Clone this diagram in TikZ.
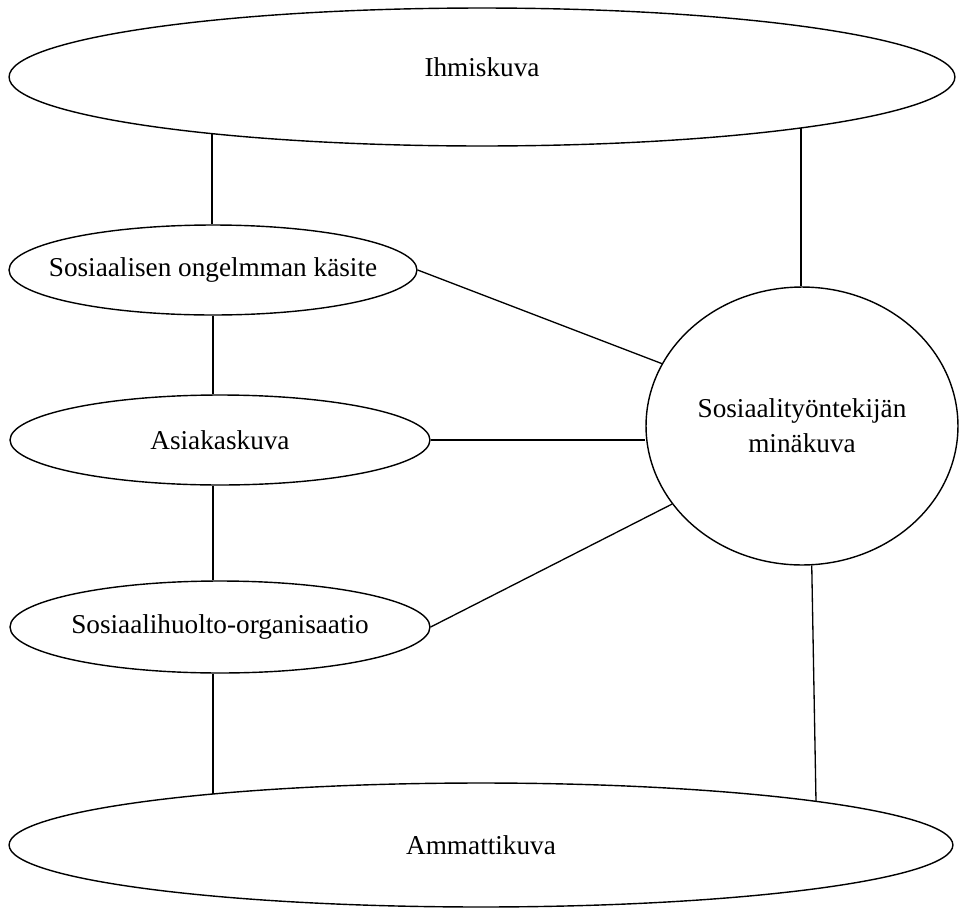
\documentclass[tikz,border=0pt]{standalone}
\usepackage{fontspec}
\setmainfont{Liberation Serif}
\usetikzlibrary{shapes.geometric,calc}
\tikzset{
    kuva/.style = {draw, ellipse, inner sep=0pt, inner xsep=-1cm, line width=0.8pt},
    yhteys/.style = {draw, line width=0.75pt}
}

\begin{document}
\begin{tikzpicture}[x=0.02cm, y=-0.02cm, font=\fontsize{15.5}{20}\selectfont]
    \useasboundingbox (0,0) rectangle (961,910);
    \node[kuva, minimum width=18.92cm, minimum height=2.76cm, text depth=0.4cm] (ihmis) at (482,77) {Ihmiskuva};
    \node[kuva, minimum width=8.16cm, minimum height=1.8cm] (ongelma) at (213,270) {Sosiaalisen ongelmman käsite};
    \node[kuva, minimum width=8.4cm, minimum height=1.8cm] (asiakas) at (220,440) {Asiakaskuva};
    \node[kuva, minimum width=8.4cm, minimum height=1.84cm] (organ) at (220,627) {Sosiaalihuolto-organisaatio};
    \node[kuva, minimum width=6.24cm, minimum height=5.56cm, align=center] (minakuva) at (802,426) {Sosiaalityöntekijän\\minäkuva};
    \node[kuva, minimum width=18.88cm, minimum height=2.48cm] (ammatti) at (481,845) {Ammattikuva};
    \coordinate (ihmisL) at ($(ihmis.center)+(-270,56.6)$);
    \coordinate (ihmisR) at ($(ihmis.center)+(319,50.9)$);
    \coordinate (ammattiL) at ($(ammatti.center)+(-268,-51)$);
    \coordinate (ammattiR) at ($(ammatti.center)+(335,-43.7)$);
    \draw[yhteys] (ihmisL) -- (ihmisL |- ongelma.north);
    \draw[yhteys] (ongelma.south) -- (ongelma.south |- asiakas.north);
    \draw[yhteys] (ongelma.south |- asiakas.south) -- (ongelma.south |- organ.north);
    \draw[yhteys] (ongelma.south |- organ.south) -- (ongelma.south |- ammattiL);
    \draw[yhteys] (ihmisR) -- (ihmisR |- minakuva.north);
    \draw[yhteys] (minakuva.-86) -- (ammattiR);
    \draw[yhteys] (ongelma.east) -- (minakuva.156.5);
    \draw[yhteys] (asiakas.east) -- (asiakas.east -| minakuva.west);
    \draw[yhteys] (organ.east) -- (minakuva.211.6);
\end{tikzpicture}
\end{document}
